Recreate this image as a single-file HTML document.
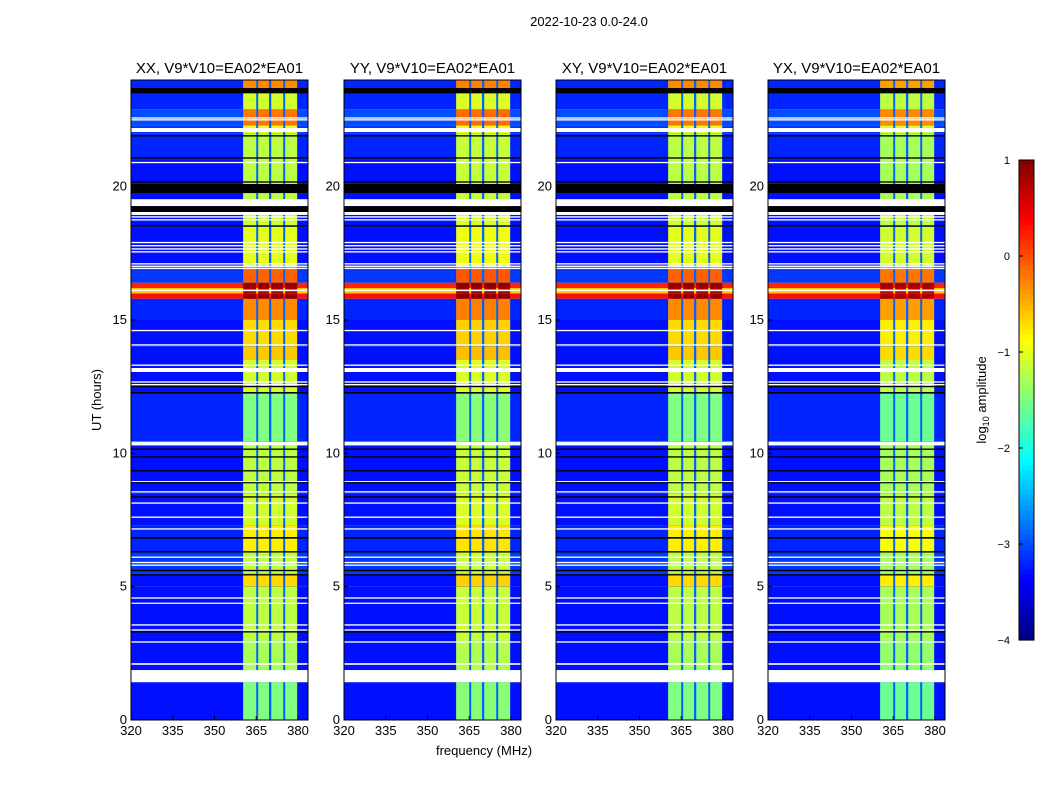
<!DOCTYPE html>
<html><head><meta charset="utf-8"><style>
body{margin:0;background:#fff;}
svg{display:block;font-family:"Liberation Sans",sans-serif;}
</style></head><body>
<svg id="fig" width="1050" height="800">
<text x="589" y="26" text-anchor="middle" font-size="13">2022-10-23 0.0-24.0</text>
<text x="484" y="755" text-anchor="middle" font-size="13">frequency (MHz)</text>
<text transform="translate(101,400) rotate(-90)" text-anchor="middle" font-size="13">UT (hours)</text>
</svg>
<script>
const panelTitles = ["XX, V9*V10=EA02*EA01","YY, V9*V10=EA02*EA01","XY, V9*V10=EA02*EA01","YX, V9*V10=EA02*EA01"];
const panelLeft = [131,344,556,768];
const segStart = [0,1.87,3.0,5.0,5.5,6.3,7.3,8.5,10.3,10.45,12.3,13.5,14.0,15.0,15.8,16.0,16.2,16.4,17.0,18.5,19.0,21.0,22.0,22.3,22.9,23.55];
const segEnd   = [1.42,3.0,5.0,5.5,6.3,7.3,8.5,10.3,10.45,12.3,13.5,14.0,15.0,15.8,16.0,16.2,16.4,17.0,18.5,19.0,21.0,22.0,22.3,22.9,23.55,24];
const bgValue  = [-3.3,-3.3,-3.3,-3.3,-3.1,-3.2,-3.3,-3.3,-2.3,-3.2,-3.3,-3.3,-3.3,-3.2,0.3,-0.6,0.2,-3.1,-3.3,-3.3,-3.3,-3.2,-3.1,-3.0,-3.2,-3.2];
const rfiValue = [-1.5,-1.3,-1.2,-0.7,-1.2,-0.8,-1.1,-1.2,-1.3,-1.5,-1.1,-0.6,-0.7,-0.3,0.9,0.8,0.9,-0.1,-1.0,-1.1,-1.2,-1.2,-1.0,-0.2,-1.1,-0.3];
const panelRfiOffset = [0,0.05,0,-0.1];
const rfiBandLo = [360.3,365.7,370.4,375.4];
const rfiBandHi = [365.0,369.6,374.7,379.7];
const gapValue = -2.9;
const whiteFlags = [[1.42,1.87],[2.07,2.13],[2.9,2.95],[3.35,3.4],[3.54,3.59],[4.36,4.4],[4.55,4.6],[5.78,5.83],[5.88,5.93],[6.08,6.13],[7.14,7.19],[7.58,7.63],[8.11,8.16],[8.53,8.58],[8.92,8.96],[10.3,10.42],[12.55,12.6],[12.65,12.7],[13.05,13.2],[13.28,13.33],[14.04,14.09],[14.58,14.63],[16.08,16.14],[16.91,16.96],[16.99,17.04],[17.08,17.13],[17.53,17.58],[17.64,17.69],[17.76,17.81],[17.88,17.93],[18.73,18.78],[18.84,18.89],[18.94,19.05],[19.27,19.53],[20.88,20.93],[22.05,22.2],[22.48,22.53],[22.55,22.6]];
const blackFlags = [[3.28,3.33],[5.42,5.47],[5.58,5.63],[6.28,6.33],[6.8,6.86],[8.34,8.39],[8.88,8.92],[9.32,9.37],[9.84,9.89],[10.13,10.18],[12.24,12.3],[12.48,12.53],[18.5,18.55],[19.05,19.27],[19.76,20.1],[20.15,20.2],[21.05,21.1],[21.88,21.93],[23.5,23.7]];
const cbTicks = [1,0,-1,-2,-3,-4];
const xTicks = [320,335,350,365,380];
const yTicks = [0,5,10,15,20];

const NS="http://www.w3.org/2000/svg";
const svg=document.getElementById('fig');
const TOP=80,BOT=720,W=177,FMIN=320,FMAX=383.6,VMIN=-4,VMAX=1;
function yS(h){return BOT-(h/24)*(BOT-TOP);}
function xS(f,left){return left+(f-FMIN)/(FMAX-FMIN)*W;}
function jet(v){let t=Math.max(0,Math.min(1,(v-VMIN)/(VMAX-VMIN)));
 const c=x=>Math.round(255*Math.max(0,Math.min(1,1.5-Math.abs(4*t-x))));
 return `rgb(${c(3)},${c(2)},${c(1)})`;}
function mk(tag,attrs,parent){const e=document.createElementNS(NS,tag);for(const k in attrs)e.setAttribute(k,attrs[k]);(parent||svg).appendChild(e);return e;}

panelLeft.forEach((L,p)=>{
 const g=mk('g',{});
 
 
 for(let i=0;i<segStart.length;i++){
  const y0=yS(segEnd[i]),y1=yS(segStart[i]);
  const r=mk('rect',{x:L,y:y0,width:W,height:y1-y0,fill:jet(bgValue[i])},g);
  
  
  const gp=mk('rect',{x:xS(rfiBandLo[0],L),y:y0,width:xS(rfiBandHi[3],L)-xS(rfiBandLo[0],L),height:y1-y0,fill:jet(Math.max(gapValue,bgValue[i]))},g);
  
  
  for(let b=0;b<rfiBandLo.length;b++){
   const c=mk('rect',{x:xS(rfiBandLo[b],L),y:y0,width:xS(rfiBandHi[b],L)-xS(rfiBandLo[b],L),height:y1-y0,fill:jet(rfiValue[i]+panelRfiOffset[p])},g);
   
   
  }
 }
 whiteFlags.forEach(f=>{const r=mk('rect',{x:L,y:yS(f[1]),width:W,height:Math.max(1.2,yS(f[0])-yS(f[1])),fill:'#fff'},g);
  
  });
 blackFlags.forEach(f=>{const r=mk('rect',{x:L,y:yS(f[1]),width:W,height:Math.max(1.2,yS(f[0])-yS(f[1])),fill:'#000'},g);
  
  });
 const fr=mk('rect',{x:L,y:TOP,width:W,height:BOT-TOP,fill:'none',stroke:'#000','stroke-width':1},g);
 
 
 const t=mk('text',{x:L+W/2,y:73,'text-anchor':'middle','font-size':15},g);
 t.textContent=panelTitles[p];
 
 
 xTicks.forEach(v=>{const x=xS(v,L);
  mk('line',{x1:x,x2:x,y1:BOT,y2:BOT-4,stroke:'#000'},g);
  const tx=mk('text',{x:x,y:BOT+15,'text-anchor':'middle','font-size':13},g);tx.textContent=v;
  
  });
 yTicks.forEach(v=>{const y=yS(v);
  mk('line',{x1:L,x2:L+4,y1:y,y2:y,stroke:'#000'},g);
  const ty=mk('text',{x:L-4,y:y+4,'text-anchor':'end','font-size':13},g);ty.textContent=v;
  
  });
});

const cb=mk('g',{});


const CT=160,CB=640,CX=1019,CW=15;
for(let i=0;i<96;i++){const v=VMAX-(i+0.5)/96*(VMAX-VMIN);
 mk('rect',{x:CX,y:CT+i*(CB-CT)/96,width:CW,height:(CB-CT)/96+0.6,fill:jet(v)},cb);}
mk('rect',{x:CX,y:CT,width:CW,height:CB-CT,fill:'none',stroke:'#000'},cb);
cbTicks.forEach(v=>{const y=CT+(VMAX-v)/(VMAX-VMIN)*(CB-CT);
 mk('line',{x1:CX,x2:CX+4,y1:y,y2:y,stroke:'#000'},cb);
 const t=mk('text',{x:1010,y:y+4,'text-anchor':'end','font-size':11},cb);
 t.textContent=v<0?'\u2212'+(-v):v;
 
 });
const cl=mk('text',{transform:'translate(986,400) rotate(-90)','text-anchor':'middle','font-size':13},cb);
cl.innerHTML='log<tspan font-size="9" dy="3">10</tspan><tspan dy="-3"> amplitude</tspan>';


</script>
</body></html>
